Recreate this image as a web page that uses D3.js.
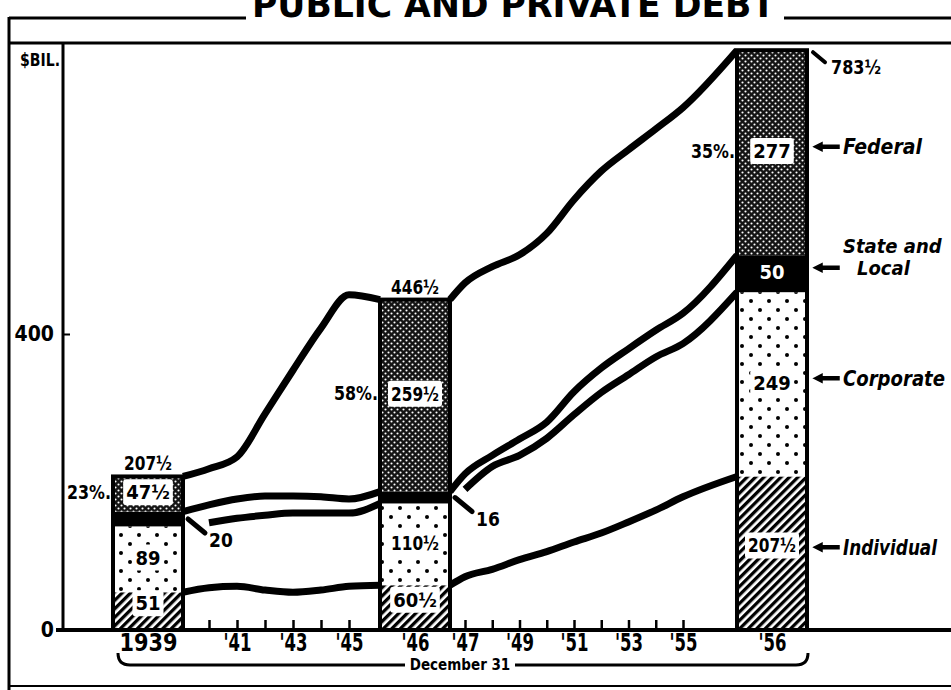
<!DOCTYPE html>
<html>
<head>
<meta charset="utf-8">
<script src="https://cdn.jsdelivr.net/npm/d3@7"></script>
<style>
  body { margin: 0; background: #fff; }
  svg text { font-family: 'Liberation Sans Narrow', 'DejaVu Sans Condensed', 'Roboto', sans-serif; font-weight: bold; fill: #000; }
</style>
</head>
<body>
<div id="chart"></div>
<script>
// Debt outstanding, $ billions, December 31 of each year
var years = d3.range(1939, 1957);
var barYears = [1939, 1946, 1956];
var individual = [51, 57, 59, 54, 51, 54, 59, 60.5, 72, 82, 95, 106, 119, 131, 146, 162, 180, 207.5];
var corporate  = [89, 88, 92, 101, 107, 104, 99, 110.5, 118, 139, 141, 153, 172, 190, 199, 207, 207, 249];
var stateLocal = [20, 24, 26, 26, 23, 22, 19, 16, 21, 15, 22, 22, 31, 33, 35, 36, 41, 50];
var federal    = [47.5, 49, 57, 111, 170, 228, 276, 259.5, 258, 255, 249, 255, 259.5, 266, 269, 272, 278, 277];
var seriesKeys = ["individual", "corporate", "stateLocal", "federal"];
var seriesLabels = [["Individual"], ["Corporate"], ["State and", "Local"], ["Federal"]];
var yTicks = [0, 400];
var labelYears = [1939, 1941, 1943, 1945, 1946, 1947, 1949, 1951, 1953, 1955, 1956];

var W = 951, H = 690, bw = 70;

var rows = years.map(function(yr, i) {
  return { year: yr, individual: individual[i], corporate: corporate[i], stateLocal: stateLocal[i], federal: federal[i] };
});
var layers = d3.stack().keys(seriesKeys)(rows);

// years between the bars are evenly spaced, the bars take extra room
var x = d3.scaleLinear()
  .domain([1939, 1940, 1945, 1946, 1947, 1955, 1956])
  .range([148, 209, 349, 415, 465, 683, 772]);
var y = d3.scaleLinear().domain([0, 800]).range([630, 38]);

var fmt = function(v) { return Math.floor(v) === v ? String(v) : Math.floor(v) + "½"; };

var svg = d3.select("#chart").append("svg")
  .attr("width", W).attr("height", H);

// squeeze a text into a given width, like the narrow type of the original
function fit(t, w) {
  var bb = t.node().getBBox();
  if (bb.width > w) t.attr("textLength", w).attr("lengthAdjust", "spacingAndGlyphs");
  return t;
}

// patterns
var defs = svg.append("defs");
var pInd = defs.append("pattern").attr("id", "p0").attr("patternUnits", "userSpaceOnUse")
  .attr("width", 6).attr("height", 6).attr("patternTransform", "rotate(45)");
pInd.append("rect").attr("width", 6).attr("height", 6).attr("fill", "#fff");
pInd.append("rect").attr("width", 3.3).attr("height", 6).attr("fill", "#000");

var pCorp = defs.append("pattern").attr("id", "p1").attr("patternUnits", "userSpaceOnUse")
  .attr("width", 18).attr("height", 18);
pCorp.append("rect").attr("width", 18).attr("height", 18).attr("fill", "#fff");
pCorp.append("circle").attr("cx", 4).attr("cy", 4).attr("r", 2).attr("fill", "#000");
pCorp.append("circle").attr("cx", 13).attr("cy", 13).attr("r", 2).attr("fill", "#000");

var pSL = defs.append("pattern").attr("id", "p2").attr("patternUnits", "userSpaceOnUse")
  .attr("width", 6).attr("height", 6);
pSL.append("rect").attr("width", 6).attr("height", 6).attr("fill", "#000");

var pFed = defs.append("pattern").attr("id", "p3").attr("patternUnits", "userSpaceOnUse")
  .attr("width", 6).attr("height", 6);
pFed.append("rect").attr("width", 6).attr("height", 6).attr("fill", "#141414");
pFed.append("circle").attr("cx", 1.5).attr("cy", 1.5).attr("r", 1.05).attr("fill", "#fff");
pFed.append("circle").attr("cx", 4.5).attr("cy", 4.5).attr("r", 1.05).attr("fill", "#fff");

// frame
var frame = svg.append("g").attr("stroke", "#000").attr("fill", "none");
frame.append("line").attr("x1", 9).attr("x2", 246).attr("y1", 18).attr("y2", 18).attr("stroke-width", 3);
frame.append("line").attr("x1", 784).attr("x2", W).attr("y1", 18).attr("y2", 18).attr("stroke-width", 3);
frame.append("line").attr("x1", 9).attr("x2", 9).attr("y1", 17).attr("y2", H).attr("stroke-width", 3);
frame.append("line").attr("x1", 9).attr("x2", W).attr("y1", 43).attr("y2", 43).attr("stroke-width", 3);
frame.append("line").attr("x1", 63).attr("x2", 63).attr("y1", 43).attr("y2", y(0)).attr("stroke-width", 3);
frame.append("line").attr("x1", 9).attr("x2", W).attr("y1", 686).attr("y2", 686).attr("stroke-width", 2);

svg.append("text").attr("x", 252).attr("y", 17)
  .attr("textLength", 523).attr("lengthAdjust", "spacingAndGlyphs")
  .style("font-size", "36px").text("PUBLIC AND PRIVATE DEBT");

svg.append("text").attr("x", 20).attr("y", 66)
  .attr("textLength", 40).attr("lengthAdjust", "spacingAndGlyphs")
  .style("font-size", "18px").text("$BIL.");

// y axis
var yAxis = svg.append("g").attr("transform", "translate(63,0)")
  .call(d3.axisLeft(y).tickValues(yTicks).tickSize(-7).tickPadding(9));
yAxis.select(".domain").remove();
yAxis.selectAll(".tick line").attr("stroke-width", 2);
yAxis.selectAll("text").style("font-size", "21px");

// lines, one segment between each pair of bars
var line = d3.line().curve(d3.curveMonotoneX);
var lineG = svg.append("g").attr("fill", "none").attr("stroke", "#000")
  .attr("stroke-width", 7).attr("stroke-linejoin", "round");
layers.forEach(function(layer, k) {
  for (var s = 0; s < barYears.length - 1; s++) {
    var a = barYears[s], b = barYears[s + 1];
    var pts = [];
    // the corporate line leaves room for the state-and-local pointer
    if (k !== 1) pts.push([x(a) + bw / 2, y(layer[years.indexOf(a)][1])]);
    for (var yr = a + 1; yr < b; yr++) pts.push([x(yr), y(layer[years.indexOf(yr)][1])]);
    pts.push([x(b) - bw / 2, y(layer[years.indexOf(b)][1])]);
    lineG.append("path").attr("d", line(pts));
  }
});

// baseline and x axis
svg.append("line").attr("x1", 56).attr("x2", W).attr("y1", y(0)).attr("y2", y(0))
  .attr("stroke", "#000").attr("stroke-width", 4);

var tickYears = years.filter(function(d) { return barYears.indexOf(d) < 0 && d !== 1939; });
var xTicks = svg.append("g").attr("transform", "translate(0," + y(0) + ")")
  .call(d3.axisBottom(x).tickValues(tickYears).tickSize(-10).tickFormat(""));
xTicks.select(".domain").remove();
xTicks.selectAll(".tick line").attr("stroke-width", 2.5);

var xLabels = svg.append("g").attr("transform", "translate(0," + y(0) + ")")
  .call(d3.axisBottom(x).tickValues(labelYears).tickSize(0).tickPadding(4)
    .tickFormat(function(d) { return d === 1939 ? "1939" : "'" + String(d).slice(2); }));
xLabels.select(".domain").remove();
xLabels.selectAll("text").style("font-size", "24px")
  .each(function(d) { fit(d3.select(this), d === 1939 ? 58 : 28); });

// bars
barYears.forEach(function(yr) {
  var i = years.indexOf(yr);
  var g = svg.append("g");
  var x0 = x(yr) - bw / 2;
  layers.forEach(function(layer, k) {
    var d = layer[i];
    g.append("rect").attr("x", x0).attr("width", bw)
      .attr("y", y(d[1])).attr("height", y(d[0]) - y(d[1]))
      .attr("fill", "url(#p" + k + ")");
  });
  var top = y(layers[3][i][1]);
  g.append("rect").attr("x", x0).attr("width", bw).attr("y", top).attr("height", y(0) - top)
    .attr("fill", "none").attr("stroke", "#000").attr("stroke-width", 4);

  // segment values
  layers.forEach(function(layer, k) {
    var d = layer[i], h = y(d[0]) - y(d[1]);
    var cy = (y(d[0]) + y(d[1])) / 2 - (k === 0 ? 8 : 2);
    if (h < 25) {
      // thin band: value sits outside with a pointer
      g.append("line").attr("x1", x0 + bw + 5).attr("y1", cy + 2).attr("x2", x0 + bw + 22).attr("y2", cy + 16)
        .attr("stroke", "#000").attr("stroke-width", 5).attr("stroke-linecap", "round");
      g.append("text").attr("x", x0 + bw + 26).attr("y", cy + 30).style("font-size", "19px").text(fmt(d[1] - d[0]));
      return;
    }
    var t = g.append("text").attr("x", x(yr)).attr("y", cy).attr("dy", "0.36em")
      .attr("text-anchor", "middle").style("font-size", "20px").text(fmt(d[1] - d[0]));
    fit(t, 48);
    if (k === 2) { t.style("fill", "#fff"); return; }
    var bb = t.node().getBBox();
    g.insert("rect", function() { return t.node(); })
      .attr("x", bb.x - 3).attr("y", bb.y - 1).attr("width", bb.width + 6).attr("height", bb.height + 2)
      .attr("rx", 3).attr("fill", "#fff");
  });

  // total and federal share
  var total = layers[3][i][1];
  if (top - 28 > 43) {
    fit(g.append("text").attr("x", x(yr)).attr("y", top - 6).attr("text-anchor", "middle")
      .style("font-size", "19px").text(fmt(total)), 48);
  } else {
    g.append("line").attr("x1", x0 + bw + 6).attr("y1", top + 2).attr("x2", x0 + bw + 18).attr("y2", top + 12)
      .attr("stroke", "#000").attr("stroke-width", 4).attr("stroke-linecap", "round");
    fit(g.append("text").attr("x", x0 + bw + 24).attr("y", top + 24).style("font-size", "19px").text(fmt(total)), 50);
  }
  var f = layers[3][i];
  fit(g.append("text").attr("x", x0 - 2).attr("y", (y(f[0]) + y(f[1])) / 2 - 2).attr("dy", "0.36em")
    .attr("text-anchor", "end").style("font-size", "19px")
    .text(Math.round((f[1] - f[0]) / total * 100) + "%."), 44);
});

// series names beside the last bar
var last = years.indexOf(barYears[barYears.length - 1]);
var xr = x(barYears[barYears.length - 1]) + bw / 2;
var nameWidths = [[94], [102], [100, 66], [80]];
layers.forEach(function(layer, k) {
  var d = layer[last];
  var cy = (y(d[0]) + y(d[1])) / 2 - 6;
  svg.append("path")
    .attr("d", "M" + (xr + 7) + "," + cy + "l8,-4l0,2.5l17,0l0,3l-17,0l0,2.5z")
    .attr("fill", "#000").attr("stroke", "#000").attr("stroke-width", 1.5);
  var lab = seriesLabels[k];
  lab.forEach(function(s, j) {
    var t = svg.append("text").attr("x", xr + 36 + (j > 0 ? 14 : 0))
      .attr("y", cy + (j - (lab.length - 1)) * 22).attr("dy", "0.36em")
      .style("font-size", lab.length > 1 ? "20px" : "21px").style("font-style", "italic").text(s);
    fit(t, nameWidths[k][j]);
  });
});

// December 31 bracket
var bx0 = x(1939) - 30, bx1 = x(1956) + 36, by = 665;
svg.append("path")
  .attr("d", "M" + bx0 + "," + (by - 12) + "Q" + bx0 + "," + by + " " + (bx0 + 12) + "," + by + "L405," + by +
    "M515," + by + "L" + (bx1 - 12) + "," + by + "Q" + bx1 + "," + by + " " + bx1 + "," + (by - 12))
  .attr("fill", "none").attr("stroke", "#000").attr("stroke-width", 3);
svg.append("text").attr("x", 460).attr("y", by).attr("dy", "0.36em").attr("text-anchor", "middle")
  .style("font-size", "15px").text("December 31");
</script>
</body>
</html>
